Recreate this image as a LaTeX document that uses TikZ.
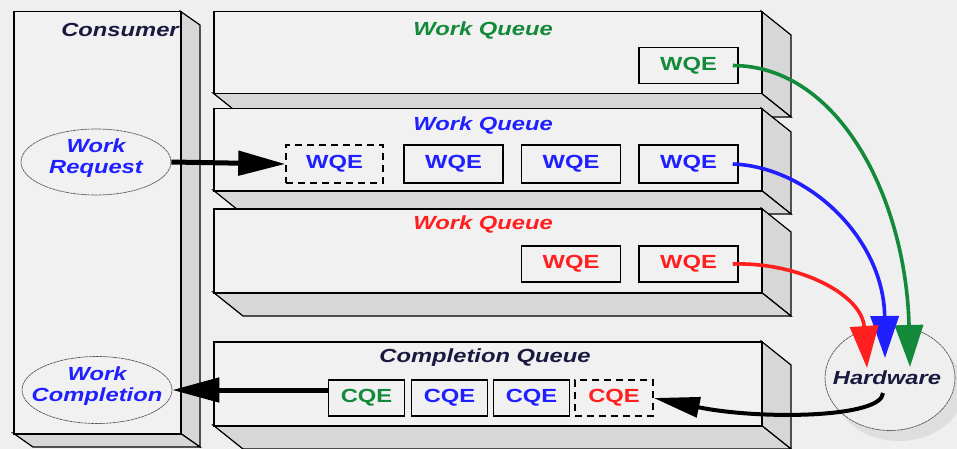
\documentclass[tikz,border=0pt]{standalone}
\usepackage{fontspec}
\newfontfamily\lab{Liberation Sans}[FakeStretch=1.25]
\usetikzlibrary{arrows.meta,shapes.geometric}

\definecolor{bg}{HTML}{EFEFEF}
\definecolor{face}{HTML}{F1F1F1}
\definecolor{sidegray}{HTML}{D7D7D7}
\definecolor{shadowgray}{HTML}{DEDEDE}
\definecolor{qgreen}{HTML}{138A3A}
\definecolor{qblue}{HTML}{1F1FFF}
\definecolor{qred}{HTML}{FF1F1F}
\definecolor{navy}{HTML}{1A1A40}

\tikzset{
  slabside/.style={fill=sidegray, draw=black, line width=1.2pt, line join=miter},
  front/.style={rectangle, fill=face, draw=black, line width=1.5pt, inner sep=0pt, anchor=north west},
  title/.style={font=\lab\bfseries\itshape\fontsize{19}{21}\selectfont, align=center, inner sep=0pt},
  entry/.style={rectangle, draw=black, line width=1.5pt, minimum width=99pt, minimum height=36pt,
                inner sep=0pt, font=\lab\bfseries\fontsize{19}{19}\selectfont},
  pending/.style={entry, dash pattern=on 7pt off 5pt},
  cqentry/.style={entry, minimum width=76pt},
  oval/.style={ellipse, draw=black!65, line width=0.7pt, dash pattern=on 3pt off 0.6pt, fill=face, inner sep=0pt},
  feed/.style={line width=5pt, -{Triangle[length=47pt,width=24pt]}},
  route/.style={line width=3.6pt, -{Triangle[length=42pt,width=28pt]}},
}

% side and bottom faces of a slab: left, top, right, bottom, depth x, depth y
\newcommand\slabfaces[6]{%
  \filldraw[slabside] (#3,#2) -- ++(#5,#6) -- ++(0,#4-#2) -- (#3,#4) -- cycle;
  \filldraw[slabside] (#1,#4) -- (#3,#4) -- ++(#5,#6) -- ++(#1-#3,0) -- cycle;
}

\begin{document}
\begin{tikzpicture}[x=1pt,y=-1pt]
\useasboundingbox (0,0) rectangle (957,449);
\fill[bg] (0,0) rectangle (957,449);

% consumer column
\slabfaces{13}{11}{180}{433}{20}{14}
\node[front, minimum width=167pt, minimum height=422pt] (consumer) at (13,11) {};
\node[title, text=navy] (constitle) at (120,30) {Consumer};

% queues
\slabfaces{213}{11}{761}{93}{30}{24}
\node[front, minimum width=548pt, minimum height=82pt] (wq1) at (213,11) {};
\slabfaces{213}{108}{761}{190}{30}{24}
\node[front, minimum width=548pt, minimum height=82pt] (wq2) at (213,108) {};
\slabfaces{213}{208}{761}{292}{30}{24}
\node[front, minimum width=548pt, minimum height=84pt] (wq3) at (213,208) {};
\slabfaces{213}{341}{761}{425}{30}{24}
\node[front, minimum width=548pt, minimum height=84pt] (cq) at (213,341) {};

\node[title, text=qgreen] (wq1title) at (483,30) {Work Queue};
\node[title, text=qblue] (wq2title) at (483,125) {Work Queue};
\node[title, text=qred] (wq3title) at (483,224) {Work Queue};
\node[title, text=navy] (cqtitle) at (485,358) {Completion Queue};

% queue entries
\node[entry, text=qgreen] (g1) at (688.5,65.5) {WQE};
\node[pending, text=qblue, minimum width=97pt, minimum height=38pt] (b0) at (334.5,164) {WQE};
\node[entry, text=qblue, minimum height=38pt] (b1) at (453.5,164) {WQE};
\node[entry, text=qblue, minimum height=38pt] (b2) at (571,164) {WQE};
\node[entry, text=qblue, minimum height=38pt] (b3) at (688.5,164) {WQE};
\node[entry, text=qred] (r1) at (571,264) {WQE};
\node[entry, text=qred] (r2) at (688.5,264) {WQE};
\node[cqentry, text=qgreen] (c1) at (366.5,398) {CQE};
\node[cqentry, text=qblue] (c2) at (449.5,398) {CQE};
\node[cqentry, text=qblue] (c3) at (531.5,398) {CQE};
\node[cqentry, dash pattern=on 7pt off 5pt, text=qred, minimum width=78pt] (c4) at (614,398) {CQE};

% consumer ovals
\node[oval, minimum width=150pt, minimum height=66pt] (req) at (96,162) {};
\node[title, text=qblue] (reqtext) at (96,158) {Work\\Request};
\node[oval, minimum width=150pt, minimum height=67pt] (comp) at (97,390) {};
\node[title, text=qblue] (comptext) at (97,386) {Work\\Completion};

% hardware
\fill[shadowgray] (899,389) ellipse [x radius=65pt, y radius=52pt];
\node[oval, fill=bg, minimum width=130pt, minimum height=105pt] (hw) at (890,378) {};
\node[title, text=navy] (hwtext) at (887,378) {Hardware};
\coordinate (hwG) at (910,367);
\coordinate (hwB) at (885,358);
\coordinate (hwR) at (867,368);
\coordinate (hwOut) at (883,393);

% connectors
\draw[feed] (req.east) -- (b0.west);
\draw[feed] (c1.west |- comp.east) -- (comp.east);
\draw[route, qgreen] ([xshift=-6pt]g1.east) .. controls (840,66) and (906,200) .. (hwG);
\draw[route, qblue] ([xshift=-6pt]b3.east) .. controls (810,167) and (884,240) .. (hwB);
\draw[route, qred] ([xshift=-6pt]r2.east) .. controls (800,262) and (862,295) .. (hwR);
\draw[line width=4pt, -{Triangle[length=46pt,width=20pt]}] (hwOut) .. controls (882,418) and (760,420) .. (c4.east);
\end{tikzpicture}
\end{document}
